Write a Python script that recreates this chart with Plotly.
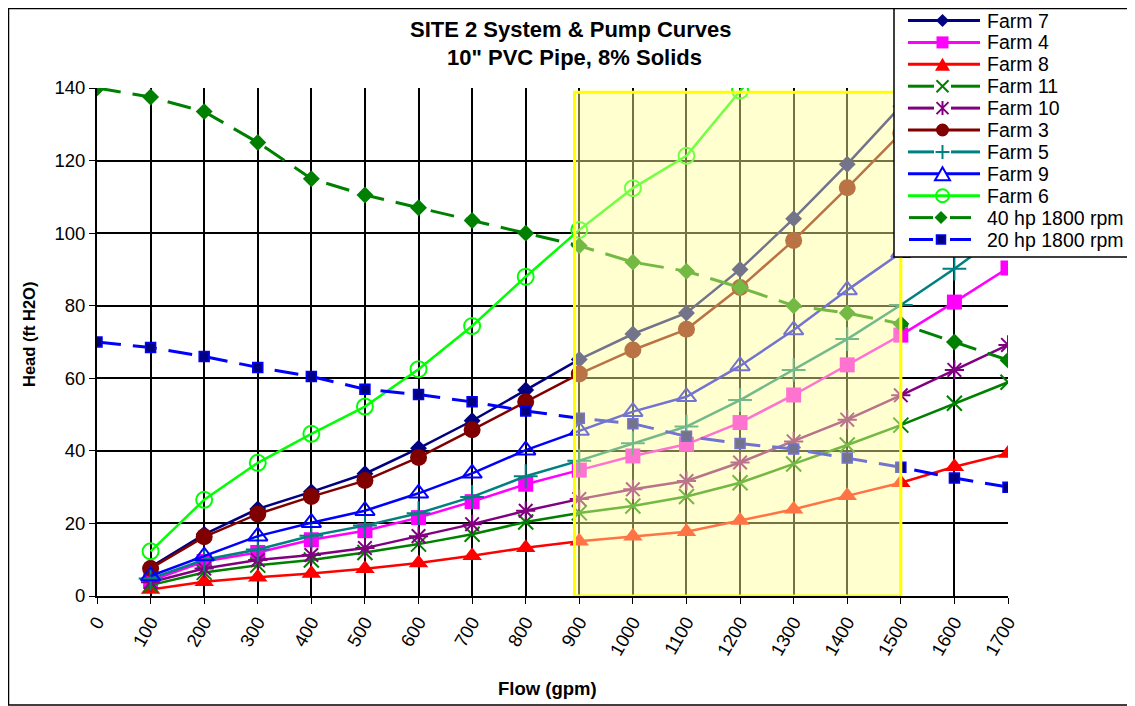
import plotly.graph_objects as go

# flow values (gpm)
flow = [0, 100, 200, 300, 400, 500, 600, 700, 800, 900,
        1000, 1100, 1200, 1300, 1400, 1500, 1600, 1700]

# system curves (ft H2O), farms have no point at 0 gpm
farm7 = [None, 8, 17, 24, 28.7, 33.7, 40.7, 48.3, 56.8, 65.2, 72.2, 78, 90, 104, 119, 135, 152, 170]
farm4 = [None, 4.2, 9.5, 12, 15.5, 18, 21.6, 26, 30.8, 34.7, 38.6, 41.8, 47.8, 55.4, 63.7, 71.9, 81, 90.4]
farm8 = [None, 1.8, 3.9, 5.2, 6.2, 7.5, 9.1, 11.1, 13.3, 15.1, 16.5, 17.7, 20.8, 23.9, 27.6, 31.2, 35.6, 39.3]
farm11 = [None, 3.0, 6.5, 8.5, 9.9, 12, 14.3, 17, 20.4, 22.9, 24.8, 27.4, 31.2, 36.4, 41.6, 47.1, 53.1, 58.9]
farm10 = [None, 3.8, 7.6, 9.9, 11.3, 13.2, 16.5, 19.8, 23.5, 26.7, 29.4, 31.7, 36.8, 42.6, 48.6, 55.3, 62.3, 69.2]
farm3 = [None, 7.6, 16.3, 22.6, 27.4, 31.8, 38.2, 45.8, 53.5, 61.2, 67.8, 73.5, 85, 98, 112.5, 127.5, 143, 160]
farm5 = [None, 4.8, 10, 12.8, 16.6, 19.4, 22.8, 27.3, 33, 37.3, 42.1, 46.7, 54, 62.3, 70.8, 80.2, 90.2, 101]
farm9 = [None, 5.5, 11, 16.5, 20.2, 23.5, 28.3, 33.8, 40.2, 45.6, 50.8, 54.9, 63.4, 73.3, 84.3, 94.6, 106, 119]
farm6 = [None, 12.3, 26.5, 36.7, 44.7, 52.2, 62.5, 74.4, 88, 100.9, 112.4, 121.3, 139.3, 157, None, None, None, None]

# pump curves
pump40 = [140, 137.5, 133.5, 125, 115, 110.5, 107, 103.5, 100, 96.5, 92, 89.5, 85, 80, 78, 75, 70, 65]
pump20 = [70, 68.5, 66, 63, 60.5, 57, 55.5, 53.5, 51, 49, 47.5, 44, 42, 40.5, 38, 35.5, 32.5, 30]

FONT = "Arial, Liberation Sans, sans-serif"
DASH = "24px,12px"

# page body has an 8px margin, so the figure is made 8px smaller and everything below
# is given in page pixels
PAGE = 8
FIG_W, FIG_H = 1135 - PAGE, 706 - PAGE

# plot area in page pixels (left, right, top, bottom)
L, R, T, B = 97, 1008, 88, 596
W, H = R - L, B - T


def px(x):
    return (x - L) / W


def py(y):
    return (B - y) / H


fig = go.Figure()

# name, values, colour, plotly symbol, size, marker line width, marker fill, dashed, legend glyph
series = [
    ("Farm 7", farm7, "#000080", "diamond", 13, 0, None, False, "diamond"),
    ("Farm 4", farm4, "#FF00FF", "square", 15, 0, None, False, "square"),
    ("Farm 8", farm8, "#FF0000", "triangle-up", 17, 0, None, False, "triangle"),
    ("Farm 11", farm11, "#008000", "x-thin", 15, 2, None, False, "x"),
    ("Farm 10", farm10, "#800080", "asterisk", 16, 2, None, False, "asterisk"),
    ("Farm 3", farm3, "#800000", "circle", 17, 0, None, False, "circle"),
    ("Farm 5", farm5, "#008080", "cross-thin", 17, 2, None, False, "plus"),
    ("Farm 9", farm9, "#0000FF", "triangle-up-open", 17, 2, None, False, "triangle-open"),
    ("Farm 6", farm6, "#00FF00", "circle-open", 16, 2, None, False, "circle-open"),
    ("40 hp 1800 rpm", pump40, "#008000", "diamond", 13, 0, None, True, "diamond"),
    ("20 hp 1800 rpm", pump20, "#0000FF", "square", 10, 1.5, "#000080", True, "small-square"),
]

for name, vals, color, sym, size, mline, mfill, dashed, _ in series:
    fig.add_trace(go.Scatter(
        x=flow, y=vals, name=name, mode="lines+markers",
        line=dict(color=color, width=3 if dashed else 2.5, dash=DASH if dashed else "solid"),
        marker=dict(symbol=sym, size=size, color=mfill or color,
                    line=dict(width=mline, color=color)),
    ))

shapes = []

# shaded operating range
shapes.append(dict(type="rect", xref="x", yref="y", x0=891, x1=1500, y0=0, y1=138.8,
                   fillcolor="rgba(255,255,150,0.45)", line=dict(color="#FFFF00", width=3),
                   layer="above"))

# outer chart border
shapes.append(dict(type="rect", xref="paper", yref="paper",
                   x0=px(8.5), x1=px(1134), y0=py(705), y1=py(8.5),
                   line=dict(color="black", width=1.5), fillcolor="rgba(0,0,0,0)", layer="above"))

# legend box
shapes.append(dict(type="rect", xref="paper", yref="paper",
                   x0=px(894), x1=px(1131), y0=py(257), y1=py(8.5),
                   line=dict(color="black", width=1.5), fillcolor="white", layer="above"))


def path(points, close=True):
    s = " ".join(("M" if i == 0 else "L") + f"{px(x):.5f},{py(y):.5f}" for i, (x, y) in enumerate(points))
    return s + (" Z" if close else "")


def glyph(kind, cx, cy, color, fill):
    d = dict(type="path", xref="paper", yref="paper", layer="above",
             line=dict(color=color, width=2), fillcolor=fill)
    if kind == "diamond":
        d["path"] = path([(cx, cy - 6.5), (cx + 6.5, cy), (cx, cy + 6.5), (cx - 6.5, cy)])
        d["line"]["width"] = 0
    elif kind == "square":
        d["path"] = path([(cx - 6, cy - 6), (cx + 6, cy - 6), (cx + 6, cy + 6), (cx - 6, cy + 6)])
        d["line"]["width"] = 0
    elif kind == "small-square":
        d["path"] = path([(cx - 4.5, cy - 4.5), (cx + 4.5, cy - 4.5), (cx + 4.5, cy + 4.5), (cx - 4.5, cy + 4.5)])
        d["line"] = dict(color="#0000FF", width=1.5)
    elif kind in ("triangle", "triangle-open"):
        d["path"] = path([(cx - 7.5, cy + 6.5), (cx + 7.5, cy + 6.5), (cx, cy - 6.5)])
        if kind == "triangle":
            d["line"]["width"] = 0
        else:
            d["fillcolor"] = "white"
    elif kind in ("circle", "circle-open"):
        d = dict(type="circle", xref="paper", yref="paper", layer="above",
                 x0=px(cx - 6.5), x1=px(cx + 6.5), y0=py(cy + 6.5), y1=py(cy - 6.5),
                 line=dict(color=color, width=2 if kind == "circle-open" else 0),
                 fillcolor=fill if kind == "circle" else "rgba(0,0,0,0)")
    else:
        segs = []
        if kind in ("x", "asterisk"):
            segs += [[(cx - 6, cy - 6), (cx + 6, cy + 6)], [(cx - 6, cy + 6), (cx + 6, cy - 6)]]
        if kind in ("plus", "asterisk"):
            segs += [[(cx, cy - 7), (cx, cy + 7)]]
        if kind == "plus":
            segs += [[(cx - 7, cy), (cx + 7, cy)]]
        d["path"] = " ".join(path(s, close=False) for s in segs)
        d["fillcolor"] = "rgba(0,0,0,0)"
    return d


annotations = []
for i, (name, vals, color, sym, size, mline, mfill, dashed, kind) in enumerate(series):
    cy = 20.5 + i * 21.9
    if dashed:
        segs = [(909, 933), (950, 971)]
        mx = 941
    elif kind in ("x", "asterisk", "plus"):
        segs = [(908, 934), (951, 980)]
        mx = 942.5
    else:
        segs = [(908, 980)]
        mx = 942.5
    for x0, x1 in segs:
        shapes.append(dict(type="line", xref="paper", yref="paper", layer="above",
                           x0=px(x0), x1=px(x1), y0=py(cy), y1=py(cy),
                           line=dict(color=color, width=3)))
    shapes.append(glyph(kind, mx, cy, color, mfill or color))
    annotations.append(dict(text=name, xref="paper", yref="paper", x=px(985), y=py(cy),
                            xanchor="left", yanchor="middle", showarrow=False,
                            font=dict(size=19.5, color="black", family=FONT)))

# titles
annotations.append(dict(text="<b>SITE 2 System & Pump Curves</b>", xref="paper", yref="paper",
                        x=px(571), y=py(30), xanchor="center", yanchor="middle", showarrow=False,
                        font=dict(size=22, color="black", family=FONT)))
annotations.append(dict(text="<b>10\" PVC Pipe, 8% Solids</b>", xref="paper", yref="paper",
                        x=px(574), y=py(57), xanchor="center", yanchor="middle", showarrow=False,
                        font=dict(size=22, color="black", family=FONT)))
annotations.append(dict(text="<b>Flow (gpm)</b>", xref="paper", yref="paper",
                        x=px(547), y=py(688), xanchor="center", yanchor="middle", showarrow=False,
                        font=dict(size=18.5, color="black", family=FONT)))
annotations.append(dict(text="<b>Head (ft H2O)</b>", xref="paper", yref="paper",
                        x=px(29), y=py(335), xanchor="center", yanchor="middle", showarrow=False,
                        textangle=-90, font=dict(size=16.5, color="black", family=FONT)))

fig.update_layout(
    width=FIG_W, height=FIG_H,
    margin=dict(l=L - PAGE, r=FIG_W - (R - PAGE), t=T - PAGE, b=FIG_H - (B - PAGE), autoexpand=False),
    paper_bgcolor="white", plot_bgcolor="white",
    font=dict(family=FONT, color="black"),
    showlegend=False,
    shapes=shapes,
    annotations=annotations,
    xaxis=dict(range=[0, 1700], dtick=100, tick0=0, showgrid=True, gridcolor="black",
               gridwidth=2, zeroline=False, showline=True, linecolor="black", linewidth=2,
               ticks="outside", ticklen=6, tickcolor="black", tickangle=-60,
               tickfont=dict(size=18.5), automargin=False),
    yaxis=dict(range=[0, 140], dtick=20, showgrid=True, gridcolor="black", gridwidth=2,
               zeroline=False, showline=True, linecolor="black", linewidth=2,
               ticks="outside", ticklen=6, tickcolor="black", tickfont=dict(size=18.5),
               automargin=False),
)

fig.write_html("out.html")
